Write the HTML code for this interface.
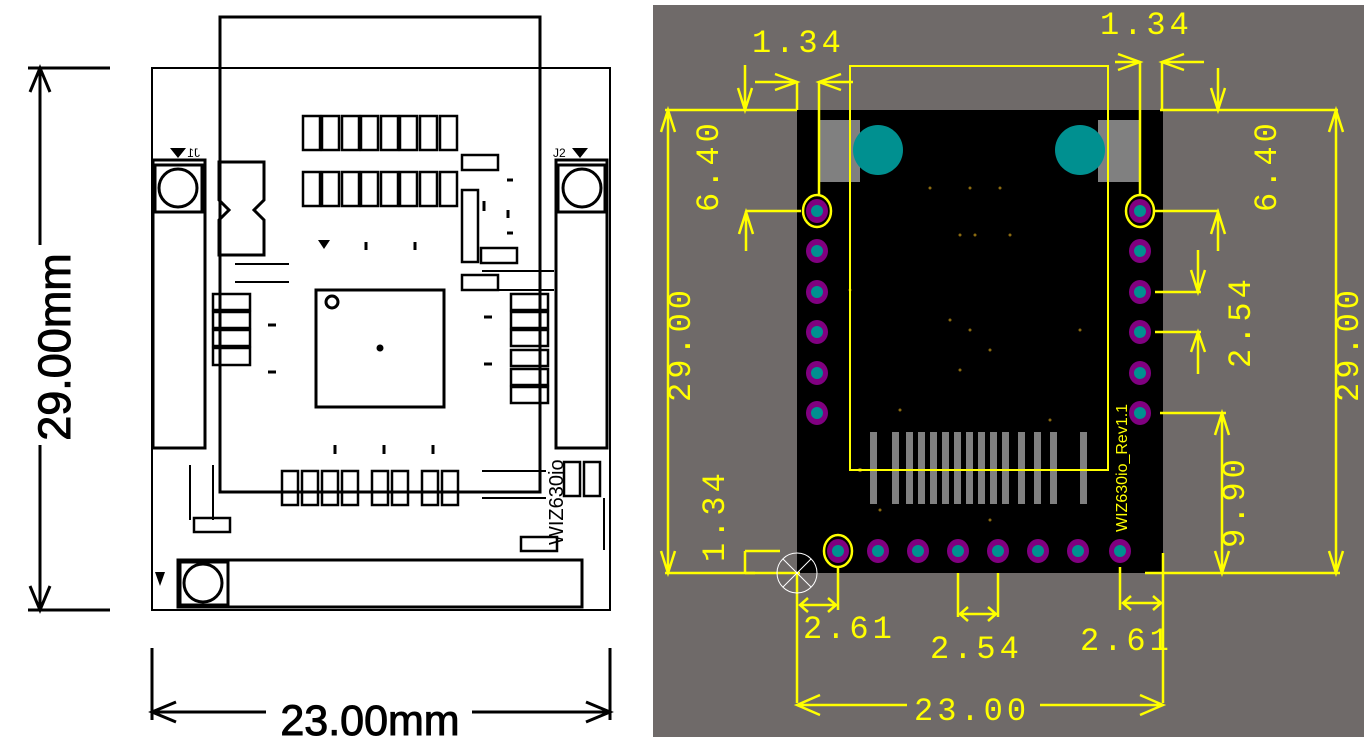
<!DOCTYPE html>
<html><head><meta charset="utf-8"><style>
html,body{margin:0;padding:0;background:#fff;}
svg{display:block;}
</style></head><body>
<svg width="1364" height="747" viewBox="0 0 1364 747" xmlns="http://www.w3.org/2000/svg">
<rect width="1364" height="747" fill="#fff"/>
<!-- LEFT DRAWING -->
<g fill="none" stroke="#000" stroke-width="3">
<rect x="152" y="68" width="458" height="542" stroke-width="2"/>
<rect x="220" y="17" width="320" height="475" stroke-width="3"/>
<rect x="153" y="160" width="52" height="288" stroke-width="3"/>
<rect x="155" y="165" width="47" height="47"/>
<circle cx="178" cy="188" r="19"/>
<rect x="556" y="160" width="51" height="288" stroke-width="3"/>
<rect x="558" y="165" width="47" height="47"/>
<circle cx="582" cy="188" r="19"/>
<rect x="178" y="560" width="404" height="47"/>
<rect x="180" y="562" width="48" height="43"/>
<circle cx="203" cy="583" r="19"/>
<rect x="316" y="290" width="128" height="117"/>
<circle cx="332" cy="302" r="6"/>
<path d="M219 162h45v38l-10 10 10 10v35h-45v-35l10-10-10-10z"/>
<g stroke-width="2.5">
<rect x="303" y="116" width="17" height="34"/><rect x="322" y="116" width="17" height="34"/><rect x="342" y="116" width="17" height="34"/><rect x="361" y="116" width="17" height="34"/><rect x="381" y="116" width="17" height="34"/><rect x="400" y="116" width="17" height="34"/><rect x="420" y="116" width="17" height="34"/><rect x="440" y="116" width="17" height="34"/>
<rect x="303" y="172" width="17" height="34"/><rect x="322" y="172" width="17" height="34"/><rect x="342" y="172" width="17" height="34"/><rect x="361" y="172" width="17" height="34"/><rect x="381" y="172" width="17" height="34"/><rect x="400" y="172" width="17" height="34"/><rect x="420" y="172" width="17" height="34"/><rect x="440" y="172" width="17" height="34"/>
<rect x="462" y="155" width="36" height="15"/>
<rect x="462" y="190" width="16" height="72"/>
<rect x="481" y="248" width="36" height="15"/>
<rect x="462" y="275" width="36" height="15"/>
<rect x="213" y="294" width="37" height="16"/><rect x="213" y="312" width="37" height="16"/><rect x="213" y="330" width="37" height="16"/><rect x="213" y="348" width="37" height="17"/>
<rect x="511" y="294" width="37" height="16"/><rect x="511" y="312" width="37" height="16"/><rect x="511" y="330" width="37" height="16"/><rect x="511" y="350" width="37" height="16"/><rect x="511" y="369" width="37" height="16"/><rect x="511" y="387" width="37" height="16"/>
<rect x="282" y="471" width="16" height="34"/><rect x="302" y="471" width="16" height="34"/><rect x="322" y="471" width="16" height="34"/><rect x="342" y="471" width="16" height="34"/><rect x="372" y="471" width="16" height="34"/><rect x="392" y="471" width="16" height="34"/><rect x="422" y="471" width="16" height="34"/><rect x="442" y="471" width="16" height="34"/>
<rect x="564" y="462" width="16" height="34"/><rect x="584" y="462" width="16" height="34"/>
<rect x="194" y="518" width="36" height="14"/>
<rect x="521" y="537" width="36" height="14"/>
</g>
<g stroke-width="2">
<path d="M235 264h54M235 282h54M482 271h72M482 290h72M482 471h64M482 498h64M190 465v55M213 465v55M604 498v52"/>
</g>
<g stroke-width="3">
<path d="M366 242v8M415 242v8M335 445v9M384 445v9M433 445v9M268 325h8M268 372h8M484 317h8M484 364h8M507 180h6M507 233h6M508 210v8M484 201v10"/>
</g>
</g>
<circle cx="380" cy="348" r="3.5" fill="#000"/>
<path d="M318 240h12l-6 9z" fill="#000"/>
<path d="M170 148h16l-8 10z M572 148h16l-8 10z M155 572h10l-5 14z" fill="#000"/>
<text x="190" y="157" font-family="Liberation Sans,sans-serif" font-size="12" transform="scale(-1,1) translate(-390,0)">J1</text>
<text x="553" y="157" font-family="Liberation Sans,sans-serif" font-size="12">J2</text>
<text x="0" y="0" font-family="Liberation Sans,sans-serif" font-size="20" fill="#000" transform="translate(563,545) rotate(-90)">WIZ630io</text>
<g stroke="#000" stroke-width="3" fill="none">
<path d="M40 68v542M28 68h82M28 610h82M30 92l10-24 10 24M30 586l10 24 10-24"/>
<path d="M152 648v72M610 648v72M152 712h458M176 702l-24 10 24 10M586 702l24 10-24 10"/>
</g>
<rect x="26" y="245" width="34" height="200" fill="#fff"/>
<text transform="translate(70,347) rotate(-90)" text-anchor="middle" font-family="Liberation Sans,sans-serif" font-size="45" fill="#000" stroke="#000" stroke-width="1">29.00mm</text>
<rect x="266" y="694" width="206" height="40" fill="#fff"/>
<text x="370" y="735" text-anchor="middle" font-family="Liberation Sans,sans-serif" font-size="43" fill="#000" stroke="#000" stroke-width="1">23.00mm</text>

<!-- RIGHT PANEL -->
<rect x="653" y="5" width="711" height="732" fill="#6f6a69"/>
<rect x="797" y="110" width="366" height="463" fill="#000"/>
<rect x="818" y="120" width="42" height="62" fill="#808080"/>
<rect x="1098" y="120" width="42" height="62" fill="#808080"/>
<ellipse cx="878" cy="150" rx="25" ry="25" fill="#009090"/>
<ellipse cx="1080" cy="150" rx="25" ry="25" fill="#009090"/>
<g fill="#808080">
<rect x="870" y="432" width="7" height="72"/><rect x="892" y="432" width="7" height="72"/><rect x="906" y="432" width="7" height="72"/><rect x="918" y="432" width="7" height="72"/><rect x="930" y="432" width="7" height="72"/><rect x="942" y="432" width="7" height="72"/><rect x="954" y="432" width="7" height="72"/><rect x="966" y="432" width="7" height="72"/><rect x="978" y="432" width="7" height="72"/><rect x="990" y="432" width="7" height="72"/><rect x="1002" y="432" width="7" height="72"/><rect x="1018" y="432" width="7" height="72"/><rect x="1034" y="432" width="7" height="72"/><rect x="1050" y="432" width="7" height="72"/><rect x="1080" y="432" width="7" height="72"/>
</g>
<g fill="#8a6a10">
<circle cx="930" cy="188" r="1.5"/><circle cx="970" cy="188" r="1.5"/><circle cx="1000" cy="188" r="1.5"/><circle cx="960" cy="235" r="1.5"/><circle cx="975" cy="235" r="1.5"/><circle cx="1010" cy="235" r="1.5"/><circle cx="950" cy="320" r="1.5"/><circle cx="970" cy="330" r="1.5"/><circle cx="990" cy="350" r="1.5"/><circle cx="960" cy="370" r="1.5"/><circle cx="1080" cy="330" r="1.5"/><circle cx="900" cy="410" r="1.5"/><circle cx="1050" cy="420" r="1.5"/><circle cx="860" cy="470" r="2"/><circle cx="880" cy="510" r="1.5"/><circle cx="990" cy="520" r="1.5"/><circle cx="850" cy="290" r="1.5"/>
</g>
<g fill="#800080">
<ellipse cx="817" cy="211" rx="11" ry="12"/><ellipse cx="817" cy="251" rx="11" ry="12"/><ellipse cx="817" cy="292" rx="11" ry="12"/><ellipse cx="817" cy="332" rx="11" ry="12"/><ellipse cx="817" cy="373" rx="11" ry="12"/><ellipse cx="817" cy="413" rx="11" ry="12"/>
<ellipse cx="1140" cy="211" rx="11" ry="12"/><ellipse cx="1140" cy="251" rx="11" ry="12"/><ellipse cx="1140" cy="292" rx="11" ry="12"/><ellipse cx="1140" cy="332" rx="11" ry="12"/><ellipse cx="1140" cy="373" rx="11" ry="12"/><ellipse cx="1140" cy="413" rx="11" ry="12"/>
<ellipse cx="838" cy="551" rx="11" ry="12"/><ellipse cx="878" cy="551" rx="11" ry="12"/><ellipse cx="918" cy="551" rx="11" ry="12"/><ellipse cx="958" cy="551" rx="11" ry="12"/><ellipse cx="998" cy="551" rx="11" ry="12"/><ellipse cx="1038" cy="551" rx="11" ry="12"/><ellipse cx="1078" cy="551" rx="11" ry="12"/><ellipse cx="1120" cy="551" rx="11" ry="12"/>
</g>
<g fill="#009090">
<circle cx="817" cy="211" r="6"/><circle cx="817" cy="251" r="6"/><circle cx="817" cy="292" r="6"/><circle cx="817" cy="332" r="6"/><circle cx="817" cy="373" r="6"/><circle cx="817" cy="413" r="6"/>
<circle cx="1140" cy="211" r="6"/><circle cx="1140" cy="251" r="6"/><circle cx="1140" cy="292" r="6"/><circle cx="1140" cy="332" r="6"/><circle cx="1140" cy="373" r="6"/><circle cx="1140" cy="413" r="6"/>
<circle cx="838" cy="551" r="6"/><circle cx="878" cy="551" r="6"/><circle cx="918" cy="551" r="6"/><circle cx="958" cy="551" r="6"/><circle cx="998" cy="551" r="6"/><circle cx="1038" cy="551" r="6"/><circle cx="1078" cy="551" r="6"/><circle cx="1120" cy="551" r="6"/>
</g>
<g fill="none" stroke="#ffff00" stroke-width="2.5">
<ellipse cx="817" cy="211" rx="14" ry="16"/><ellipse cx="1140" cy="211" rx="14" ry="16"/><ellipse cx="838" cy="551" rx="14" ry="16"/>
<path d="M850 470V66h258v404z" stroke-width="2"/>
<path d="M797 110V82M819 195V82M1140 195V62M1162 110V62M755 82h42M819 82h34M1115 62h25M1162 62h42"/>
<path d="M775 74l22 8-22 8M841 74l-22 8 22 8M1118 54l22 8-22 8M1184 54l-22 8 22 8"/>
<path d="M665 110h132M1160 110h178M745 65v45M738 88l7 22 7-22M1218 68v42M1211 88l7 22 7-22"/>
<path d="M746 211h55M1155 211h64M746 211v40M739 234l7-22 7 22M1218 211v40M1211 234l7-22 7 22"/>
<path d="M668 110v463M661 132l7-22 7 22M661 551l7 22 7-22M1336 110v463M1329 132l7-22 7 22M1329 551l7 22 7-22"/>
<path d="M665 573h135M1145 573h195"/>
<path d="M1155 292h46M1155 332h46M1198 250v42M1191 270l7 22 7-22M1198 332v42M1191 352l7-20 7 20"/>
<path d="M1160 413h66M1222 413v160M1215 435l7-22 7 22M1215 551l7 22 7-22"/>
<path d="M745 551h35M745 551v22M745 573h10"/>
<path d="M797 573v130M838 567v43M800 605h36M808 598l-8 7 8 7M828 598l8 7-8 7"/>
<path d="M958 573v44M998 573v44M960 614h36M968 607l-8 7 8 7M988 607l8 7-8 7"/>
<path d="M1120 567v43M1163 553v150M1123 603h38M1131 596l-8 7 8 7M1153 596l8 7-8 7"/>
<path d="M797 705h110M1040 705h123M820 695l-23 10 23 10M1140 695l23 10-23 10"/>
</g>
<g stroke="#fff" stroke-width="1" fill="none"><circle cx="797" cy="573" r="20"/><path d="M783 559l28 28M811 559l-28 28"/></g>
<g font-family="Liberation Mono,monospace" fill="#ffff00" font-size="32" letter-spacing="4">
<text x="752" y="52">1.34</text>
<text x="1100" y="34">1.34</text>
<text x="803" y="638">2.61</text>
<text x="930" y="658">2.54</text>
<text x="1080" y="650">2.61</text>
<text x="914" y="720">23.00</text>
<text transform="translate(718,212) rotate(-90)">6.40</text>
<text transform="translate(1276,212) rotate(-90)">6.40</text>
<text transform="translate(690,402) rotate(-90)">29.00</text>
<text transform="translate(1358,402) rotate(-90)">29.00</text>
<text transform="translate(1250,368) rotate(-90)">2.54</text>
<text transform="translate(1244,548) rotate(-90)">9.90</text>
<text transform="translate(724,562) rotate(-90)">1.34</text>
</g>
<text transform="translate(1127,532) rotate(-90)" font-family="Liberation Sans,sans-serif" font-size="16" fill="#ffff00">WIZ630io_Rev1.1</text>
</svg>
</body></html>
